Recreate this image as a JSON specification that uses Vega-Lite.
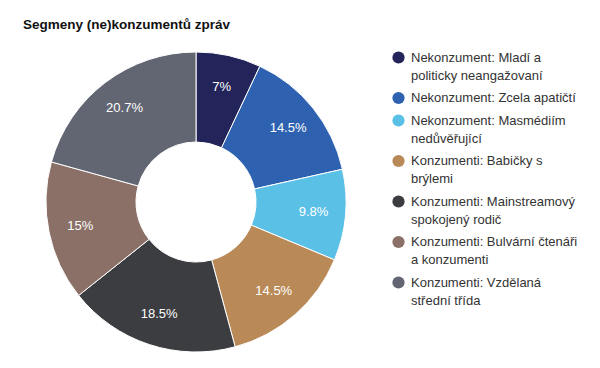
{
  "$schema": "https://vega.github.io/schema/vega-lite/v6.json",
  "width": 392,
  "height": 300,
  "autosize": {"type": "none"},
  "padding": {"left": 0, "top": 52, "right": 208, "bottom": 16},
  "background": "white",
  "title": {
    "text": "Segmeny (ne)konzumentů zpráv",
    "anchor": "start",
    "frame": "group",
    "offset": 8,
    "baseline": "alphabetic",
    "dx": 23,
    "font": "Liberation Sans",
    "fontSize": 13.5,
    "fontWeight": "bold",
    "color": "#111111"
  },
  "data": {
    "values": [
      {"segment": "Nekonzument: Mladí a politicky neangažovaní", "value": 7, "order": 1},
      {"segment": "Nekonzument: Zcela apatičtí", "value": 14.5, "order": 2},
      {"segment": "Nekonzument: Masmédiím nedůvěřující", "value": 9.8, "order": 3},
      {"segment": "Konzumenti: Babičky s brýlemi", "value": 14.5, "order": 4},
      {"segment": "Konzumenti: Mainstreamový spokojený rodič", "value": 18.5, "order": 5},
      {"segment": "Konzumenti: Bulvární čtenáři a konzumenti", "value": 15, "order": 6},
      {"segment": "Konzumenti: Vzdělaná střední třída", "value": 20.7, "order": 7}
    ]
  },
  "encoding": {
    "theta": {"field": "value", "type": "quantitative", "stack": true},
    "order": {"field": "order", "type": "quantitative"}
  },
  "layer": [
    {
      "mark": {"type": "arc", "innerRadius": 60, "outerRadius": 150, "stroke": "white", "strokeWidth": 1},
      "encoding": {
        "color": {
          "field": "segment",
          "type": "nominal",
          "scale": {
            "domain": [
              "Nekonzument: Mladí a politicky neangažovaní",
              "Nekonzument: Zcela apatičtí",
              "Nekonzument: Masmédiím nedůvěřující",
              "Konzumenti: Babičky s brýlemi",
              "Konzumenti: Mainstreamový spokojený rodič",
              "Konzumenti: Bulvární čtenáři a konzumenti",
              "Konzumenti: Vzdělaná střední třída"
            ],
            "range": ["#22245a", "#2e62b0", "#5bc0e6", "#b98a58", "#3c3d40", "#8b7068", "#626672"]
          },
          "legend": {
            "title": null,
            "orient": "none",
            "legendX": 392,
            "legendY": -1,
            "padding": 0,
            "symbolType": "circle",
            "symbolSize": 150,
            "symbolStrokeWidth": 0,
            "symbolOpacity": 1,
            "labelFont": "Liberation Sans",
            "labelFontSize": 13,
            "labelColor": "#333333",
            "labelLimit": 300,
            "labelOffset": 6,
            "rowPadding": 8.5,
            "labelExpr": "datum.label == 'Nekonzument: Mladí a politicky neangažovaní' ? ['Nekonzument: Mladí a', 'politicky neangažovaní'] : datum.label == 'Nekonzument: Masmédiím nedůvěřující' ? ['Nekonzument: Masmédiím', 'nedůvěřující'] : datum.label == 'Konzumenti: Babičky s brýlemi' ? ['Konzumenti: Babičky s', 'brýlemi'] : datum.label == 'Konzumenti: Mainstreamový spokojený rodič' ? ['Konzumenti: Mainstreamový', 'spokojený rodič'] : datum.label == 'Konzumenti: Bulvární čtenáři a konzumenti' ? ['Konzumenti: Bulvární čtenáři', 'a konzumenti'] : datum.label == 'Konzumenti: Vzdělaná střední třída' ? ['Konzumenti: Vzdělaná', 'střední třída'] : datum.label"
          }
        }
      }
    },
    {
      "mark": {"type": "text", "radius": 118, "color": "white", "font": "Liberation Sans", "fontSize": 13, "text": {"expr": "datum.value + '%'"}},
      "encoding": {}
    }
  ],
  "config": {
    "view": {"stroke": null},
    "style": {"guide-label": {"lineHeight": 18}}
  }
}
